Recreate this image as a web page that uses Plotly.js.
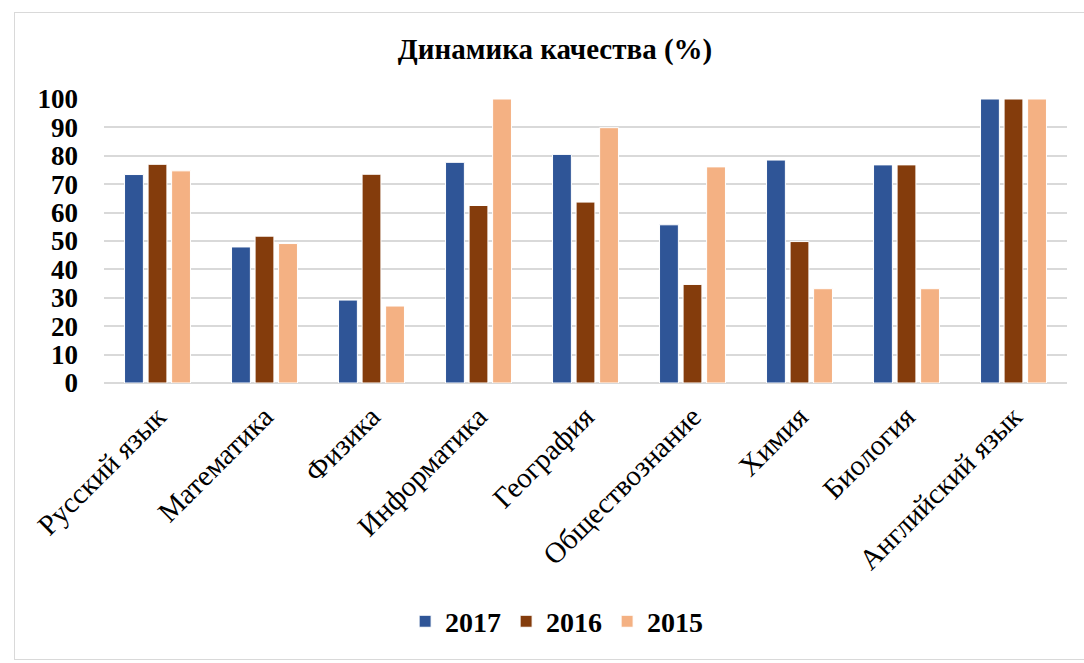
<!DOCTYPE html>
<html>
<head>
<meta charset="utf-8">
<script src="https://cdn.plot.ly/plotly-3.0.1.min.js"></script>
<style>
  html, body { margin: 0; padding: 0; background: #ffffff; }
  #wrap { position: relative; width: 1084px; height: 663px; overflow: hidden; }
  #chart { width: 1084px; height: 663px; }
  #frame { position: absolute; left: 14px; top: 12px; width: 1100px; height: 648px;
           border: 1.5px solid #d9d9d9; pointer-events: none; box-sizing: border-box; }
</style>
</head>
<body>
<div id="wrap">
  <div id="chart"></div>
  <div id="frame"></div>
</div>
<script>
const categories = ["Русский язык", "Математика", "Физика", "Информатика", "География",
                    "Обществознание", "Химия", "Биология", "Английский язык"];
const seriesNames = ["2017", "2016", "2015"];
const values2017 = [73.4, 47.9, 29.2, 77.7, 80.5, 55.7, 78.5, 76.8, 100];
const values2016 = [77.0, 51.7, 73.5, 62.5, 63.7, 34.7, 49.8, 76.8, 100];
const values2015 = [74.7, 49.1, 27.1, 100, 89.9, 76.1, 33.2, 33.2, 100];
const yTicks = [0, 10, 20, 30, 40, 50, 60, 70, 80, 90, 100];

const colors = ["#2F5597", "#843C0C", "#F4B183"];
const serif = "Liberation Serif, Times New Roman, serif";

const allValues = [values2017, values2016, values2015];
const traces = allValues.map((vals, i) => ({
  type: "bar",
  name: "<b>" + seriesNames[i] + "</b>",
  x: categories,
  y: vals,
  marker: { color: colors[i], line: { color: "#ffffff", width: 1 } },
  hoverinfo: "x+y"
}));

const layout = {
  width: 1084,
  height: 663,
  margin: { l: 104, r: 17, t: 99, b: 280 },
  paper_bgcolor: "rgba(0,0,0,0)",
  plot_bgcolor: "#ffffff",
  title: {
    text: "<b>Динамика качества (%)</b>",
    font: { family: serif, size: 29, color: "#000000" },
    x: 0.512, xanchor: "center",
    y: 0.926, yanchor: "middle"
  },
  barmode: "group",
  bargap: 0.34,
  bargroupgap: 0.2,
  xaxis: {
    type: "category",
    tickangle: -45,
    tickfont: { family: serif, size: 29, color: "#000000" },
    showgrid: false,
    showline: false,
    ticks: "",
    ticklabelstandoff: 10,
    automargin: false
  },
  yaxis: {
    range: [0, 100],
    tickvals: yTicks,
    ticktext: yTicks.map(v => "<b>" + v + "</b>"),
    tickfont: { family: serif, size: 27, color: "#000000" },
    showgrid: true,
    gridcolor: "#d9d9d9",
    gridwidth: 1.5,
    zeroline: true,
    zerolinecolor: "#d9d9d9",
    zerolinewidth: 1.5,
    showline: false,
    ticks: "",
    ticklabelstandoff: 25,
    automargin: false,
    fixedrange: true
  },
  showlegend: true,
  legend: {
    orientation: "h",
    x: 0.47, xanchor: "center",
    y: -0.84, yanchor: "middle",
    font: { family: serif, size: 28, color: "#000000" },
    itemwidth: 30,
    traceorder: "normal"
  }
};

Plotly.newPlot("chart", traces, layout, { displayModeBar: false });
</script>
</body>
</html>
